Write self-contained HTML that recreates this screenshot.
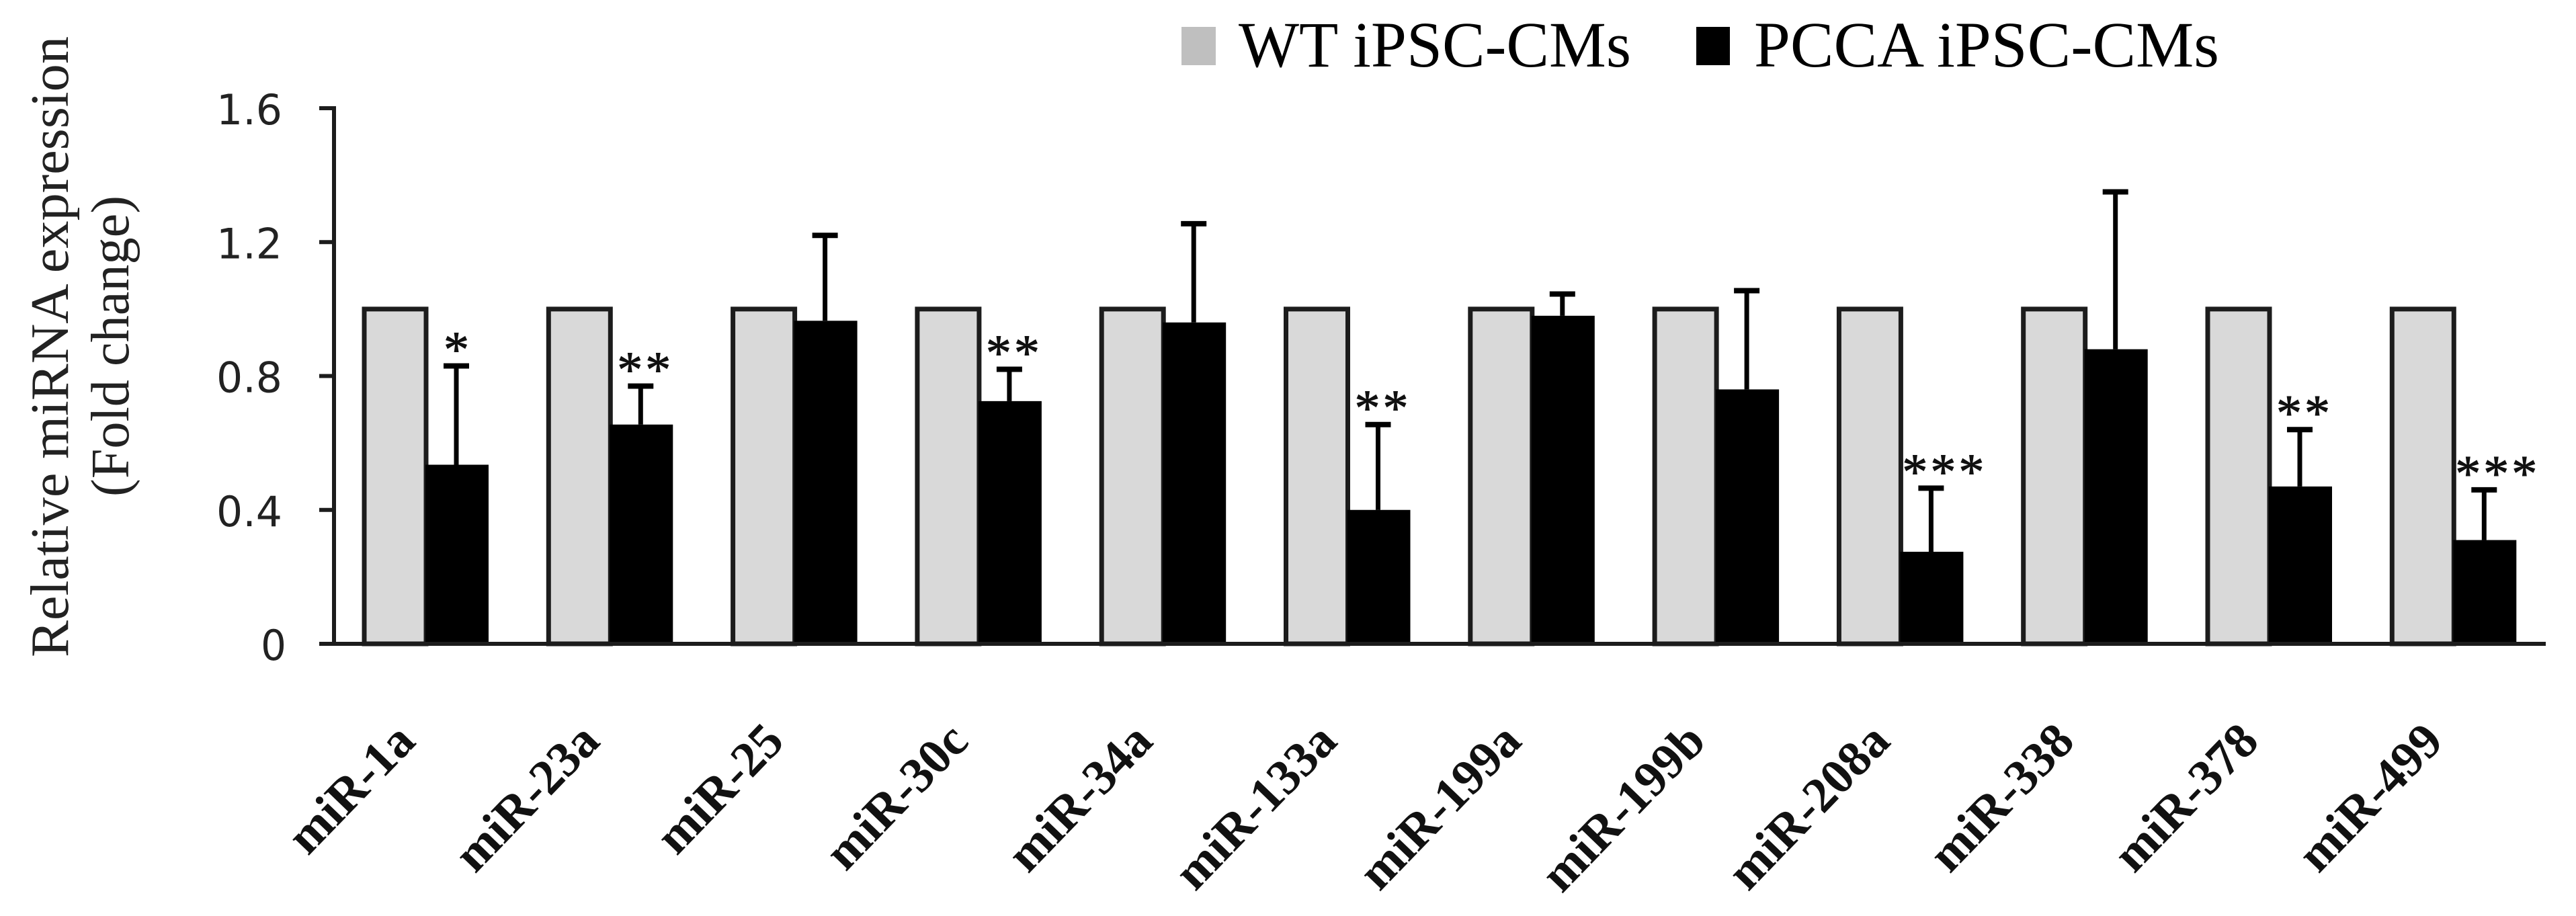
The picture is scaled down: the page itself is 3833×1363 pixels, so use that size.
<!DOCTYPE html>
<html lang="en">
<head>
<meta charset="utf-8">
<title>Relative miRNA expression</title>
<style>
html,body{margin:0;padding:0;background:#fff;width:3833px;height:1363px;overflow:hidden}
svg{display:block}
</style>
</head>
<body>
<svg id="chart" xmlns="http://www.w3.org/2000/svg" width="3833" height="1363" viewBox="0 0 3833 1363">
  <rect x="0" y="0" width="3833" height="1363" fill="#fff"/>
  <g>
    <rect x="1758" y="40" width="51" height="57" fill="#bfbfbf"/>
    <text x="1843" y="99" font-family="'Liberation Serif',serif" font-size="96" textLength="584" lengthAdjust="spacingAndGlyphs" fill="#000">WT iPSC-CMs</text>
    <rect x="2524" y="40" width="50" height="57" fill="#000"/>
    <text x="2610" y="99" font-family="'Liberation Serif',serif" font-size="96" textLength="692" lengthAdjust="spacingAndGlyphs" fill="#000">PCCA iPSC-CMs</text>
  </g>
  <g font-family="'Liberation Serif',serif" font-size="80" fill="#222">
    <text transform="translate(101,978) rotate(-90)" textLength="924" lengthAdjust="spacingAndGlyphs">Relative miRNA expression</text>
    <text transform="translate(191,739) rotate(-90)" textLength="448" lengthAdjust="spacingAndGlyphs">(Fold change)</text>
  </g>
</svg>
<script>
var categories = ['miR-1a','miR-23a','miR-25','miR-30c','miR-34a','miR-133a','miR-199a','miR-199b','miR-208a','miR-338','miR-378','miR-499'];
var wtValues = [1,1,1,1,1,1,1,1,1,1,1,1];
var pccaValues = [0.535,0.655,0.965,0.725,0.96,0.4,0.98,0.76,0.275,0.88,0.47,0.31];
var pccaErrors = [0.295,0.115,0.255,0.095,0.295,0.255,0.065,0.295,0.19,0.47,0.17,0.15];
var significance = ['*','**','','**','','**','','','***','','**','***'];
var yTickValues = [0,0.4,0.8,1.2,1.6];
var yTickLabels = ['0','0.4','0.8','1.2','1.6'];

var svg = document.getElementById('chart');
var NS = 'http://www.w3.org/2000/svg';
function yScale(v){ return 958 - (v / 1.6) * 797; }
function xGroup(i){ return 542 + i * 274.3; }
var INK = '#1c1c1c';

function make(tag, attrs, parent){
  var el = document.createElementNS(NS, tag);
  for (var k in attrs) el.setAttribute(k, attrs[k]);
  (parent || svg).appendChild(el);
  return el;
}

var barsLayer = make('g', {});



categories.forEach(function(cat, i){
  var x0 = xGroup(i);
  var group = make('g', {}, barsLayer);
  
  

  var wt = make('rect', {x: x0, y: yScale(wtValues[i]), width: 92, height: yScale(0) - yScale(wtValues[i]), fill: '#d9d9d9', stroke: INK, 'stroke-width': 7}, group);
  
  

  var pcca = make('rect', {x: x0 + 91, y: yScale(pccaValues[i]), width: 94, height: yScale(0) - yScale(pccaValues[i]), fill: '#000'}, group);
  
  

  var cx = x0 + 137;
  var topV = pccaValues[i] + pccaErrors[i];
  var stem = make('line', {x1: cx, x2: cx, y1: yScale(pccaValues[i]), y2: yScale(topV), stroke: '#000', 'stroke-width': 7}, group);
  
  

  var cap = make('line', {x1: cx - 19, x2: cx + 19, y1: yScale(topV), y2: yScale(topV), stroke: '#000', 'stroke-width': 8}, group);
  
  

  if (significance[i]) {
    var shift = [0, 0, 5, 18][significance[i].length];
    var star = make('text', {x: cx + shift + 2, y: yScale(topV) + 1, 'text-anchor': 'middle', 'font-family': "'Liberation Serif',serif", 'font-size': 76, 'letter-spacing': 4, stroke: '#111', 'stroke-width': 1, fill: '#111'}, group);
    
    
    star.textContent = significance[i];
  }

  var label = make('text', {transform: 'translate(' + (x0 + 79) + ',1106) rotate(-46)', 'text-anchor': 'end', 'font-family': "'Liberation Serif',serif", 'font-weight': 'bold', 'font-size': 74, fill: '#111'});
  
  
  label.textContent = cat;
});

var axes = make('g', {stroke: INK, 'stroke-width': 6});



var yAxis = make('line', {x1: 497, x2: 497, y1: yScale(1.6) - 3, y2: yScale(0)}, axes);



var xAxis = make('line', {x1: 475, x2: 3788, y1: yScale(0), y2: yScale(0)}, axes);



yTickValues.forEach(function(v, i){
  var tick = make('line', {x1: 475, x2: 497, y1: yScale(v), y2: yScale(v)}, axes);
  
  

  var one = yTickLabels[i].length === 1;
  var t = make('text', {x: one ? 388 : 322, y: yScale(v) + 24, 'font-family': "'DejaVu Sans',sans-serif", 'font-size': 62, textLength: one ? 38 : 98, lengthAdjust: 'spacingAndGlyphs', fill: '#222'});
  
  
  t.textContent = yTickLabels[i];
});
</script>
</body>
</html>
